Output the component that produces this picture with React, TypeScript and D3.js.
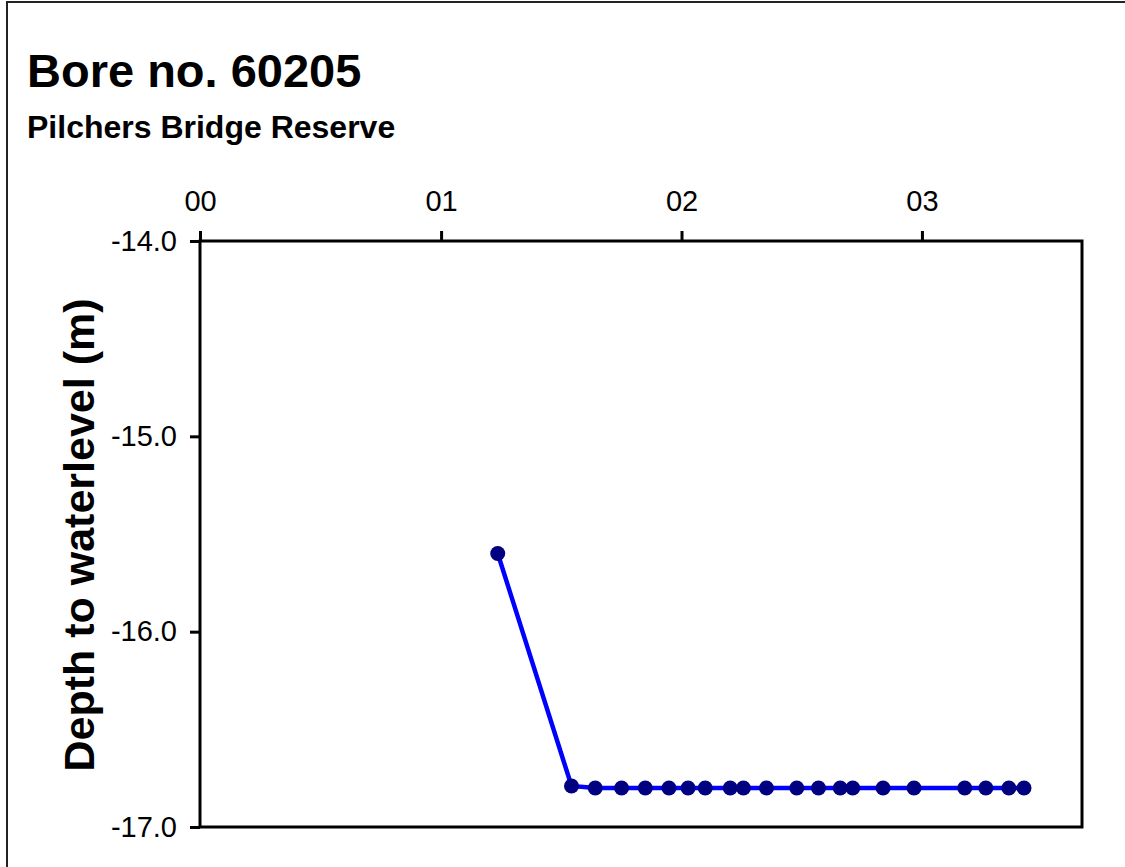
import React, { useEffect, useRef } from "react";
import * as d3 from "d3";

const TITLE = "Bore no. 60205";
const SUBTITLE = "Pilchers Bridge Reserve";
const Y_LABEL = "Depth to waterlevel (m)";

const dates: string[] = [
  "2001-03-28", "2001-07-18", "2001-08-23", "2001-10-02", "2001-11-07",
  "2001-12-13", "2002-01-11", "2002-02-06", "2002-03-16", "2002-04-05",
  "2002-05-10", "2002-06-25", "2002-07-28", "2002-08-30", "2002-09-18",
  "2002-11-03", "2002-12-20", "2003-03-07", "2003-04-08", "2003-05-13",
  "2003-06-05",
];
const depths: number[] = [
  -15.6, -16.79, -16.8, -16.8, -16.8,
  -16.8, -16.8, -16.8, -16.8, -16.8,
  -16.8, -16.8, -16.8, -16.8, -16.8,
  -16.8, -16.8, -16.8, -16.8, -16.8,
  -16.8,
];
const xTickDates: string[] = ["2000-01-01", "2001-01-01", "2002-01-01", "2003-01-01"];
const xTickLabels: string[] = ["00", "01", "02", "03"];
const yTicks: number[] = [-14, -15, -16, -17];
const xDomain: string[] = ["2000-01-01", "2003-09-01"];
const yDomain: number[] = [-14, -17];

export default function App() {
  const ref = useRef<SVGSVGElement | null>(null);

  useEffect(() => {
    const svg = d3.select(ref.current);
    svg.selectAll("*").remove();
    const font = "'Liberation Sans', Arial, Helvetica, sans-serif";
    const left = 200, right = 1082, top = 241, bottom = 827;
    const parse = (s: string) => new Date(s + "T00:00:00");

    const x = d3.scaleTime().domain(xDomain.map(parse)).range([left, right]);
    const y = d3.scaleLinear().domain(yDomain).range([top, bottom]);

    svg.append("rect").attr("width", 1125).attr("height", 867).attr("fill", "#fff");
    // outer frame
    svg.append("rect")
      .attr("x", 7).attr("y", 2).attr("width", 1200).attr("height", 900)
      .attr("fill", "none").attr("stroke", "#222").attr("stroke-width", 2);

    svg.append("text").attr("x", 27).attr("y", 87)
      .attr("font-family", font).attr("font-weight", "bold").attr("font-size", 47)
      .attr("fill", "#000").text(TITLE);
    svg.append("text").attr("x", 27).attr("y", 138)
      .attr("font-family", font).attr("font-weight", "bold").attr("font-size", 32)
      .attr("fill", "#000").text(SUBTITLE);

    // plot frame
    svg.append("rect")
      .attr("x", left).attr("y", top).attr("width", right - left).attr("height", bottom - top)
      .attr("fill", "none").attr("stroke", "#000").attr("stroke-width", 3);

    // x axis on top
    const xa = svg.append("g").attr("transform", `translate(0,${top})`)
      .call(
        d3.axisTop(x)
          .tickValues(xTickDates.map(parse))
          .tickFormat((_d, i) => xTickLabels[i])
          .tickSize(10)
          .tickPadding(20)
      );
    xa.select(".domain").remove();
    xa.selectAll("line").attr("stroke", "#000").attr("stroke-width", 3);
    xa.selectAll("text").attr("font-family", font).attr("font-size", 29).attr("fill", "#000");

    const ya = svg.append("g").attr("transform", `translate(${left},0)`)
      .call(
        d3.axisLeft(y)
          .tickValues(yTicks)
          .tickFormat((d) => d3.format(".1f")(d as number).replace("−", "-"))
          .tickSize(10)
          .tickPadding(13)
      );
    ya.select(".domain").remove();
    ya.selectAll("line").attr("stroke", "#000").attr("stroke-width", 3);
    ya.selectAll("text").attr("font-family", font).attr("font-size", 29).attr("fill", "#000");

    svg.append("text")
      .attr("transform", `translate(94,535) rotate(-90)`)
      .attr("text-anchor", "middle")
      .attr("font-family", font).attr("font-weight", "bold").attr("font-size", 43)
      .attr("fill", "#000").text(Y_LABEL);

    const pts = dates.map((d, i) => ({ date: parse(d), v: depths[i] }));
    const line = d3.line<{ date: Date; v: number }>()
      .x((d) => x(d.date)).y((d) => y(d.v));
    svg.append("path").datum(pts).attr("d", line)
      .attr("fill", "none").attr("stroke", "#0000ff").attr("stroke-width", 4.5);
    svg.append("g").selectAll("circle").data(pts).join("circle")
      .attr("cx", (d) => x(d.date)).attr("cy", (d) => y(d.v))
      .attr("r", 7.5).attr("fill", "#000080");
  }, []);

  return (
    <svg
      ref={ref}
      width={1125}
      height={867}
      style={{ position: "absolute", left: 0, top: 0, display: "block" }}
    />
  );
}
